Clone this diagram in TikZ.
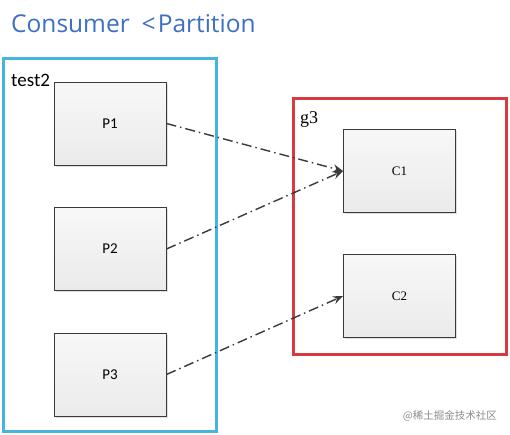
\documentclass[tikz,border=0pt]{standalone}
\usepackage{fontspec}
\setmainfont{Carlito}
\newfontfamily\titlefont{Open Sans}
\newfontfamily\cfont{Liberation Serif}
\newfontfamily\cjk{Noto Sans CJK SC}
\usetikzlibrary{arrows.meta,shadows}
\definecolor{titleblue}{HTML}{3D70C4}
\definecolor{boxblue}{HTML}{45B4DE}
\definecolor{boxred}{HTML}{D93A40}
\definecolor{linegray}{HTML}{3A3A3A}
\tikzset{
  pbox/.style={draw=linegray, line width=0.9pt, minimum width=112pt, minimum height=83pt,
    top color=white!97!black, bottom color=white!92!black,
    drop shadow={shadow xshift=1.5pt, shadow yshift=-1.5pt, opacity=0.25},
    font=\fontsize{15}{17}\selectfont, inner sep=0pt},
  cbox/.style={pbox, font=\cfont\fontsize{13}{15}\selectfont},
  conn/.style={draw=linegray, line width=1.4pt, dash pattern=on 10pt off 4pt on 1.5pt off 4pt,
    -{Stealth[length=10pt,width=8pt]}},
}
\begin{document}
\begin{tikzpicture}[x=1pt,y=-1pt]
\useasboundingbox (0,0) rectangle (510,434);
\fill[white] (0,0) rectangle (510,434);
\node[anchor=base west, text=titleblue, font=\titlefont\fontsize{24.5}{28}\selectfont, inner sep=0pt] (title) at (11,32) {Consumer\hspace{12pt}<\hspace{2pt}Partition};
\node[draw=boxblue, line width=2.2pt, minimum width=213pt, minimum height=373pt, inner sep=0pt] (test2) at (110,245) {};
\node[draw=boxred, line width=2.2pt, minimum width=213pt, minimum height=256pt, inner sep=0pt] (g3) at (400,226.5) {};
\node[anchor=base west, font=\fontsize{19}{21}\selectfont, inner sep=0pt] (l1) at (11,86) {test2};
\node[anchor=base west, font=\cfont\fontsize{18}{20}\selectfont, inner sep=0pt] (l2) at (300,123) {g3};
\node[pbox] (p1) at (110,123.5) {P1};
\node[pbox] (p2) at (110,249) {P2};
\node[pbox] (p3) at (110,374.5) {P3};
\node[cbox] (c1) at (399.5,171) {C1};
\node[cbox] (c2) at (399.5,296) {C2};
\draw[conn] (p1.east) -- (c1.west);
\draw[conn] (p2.east) -- (c1.west);
\draw[conn] (p3.east) -- (c2.west);
\node[anchor=base east, text=black!45, font=\cjk\fontsize{10.5}{12}\selectfont, inner sep=0pt] (wm) at (497,419) {@稀土掘金技术社区};
\end{tikzpicture}
\end{document}
